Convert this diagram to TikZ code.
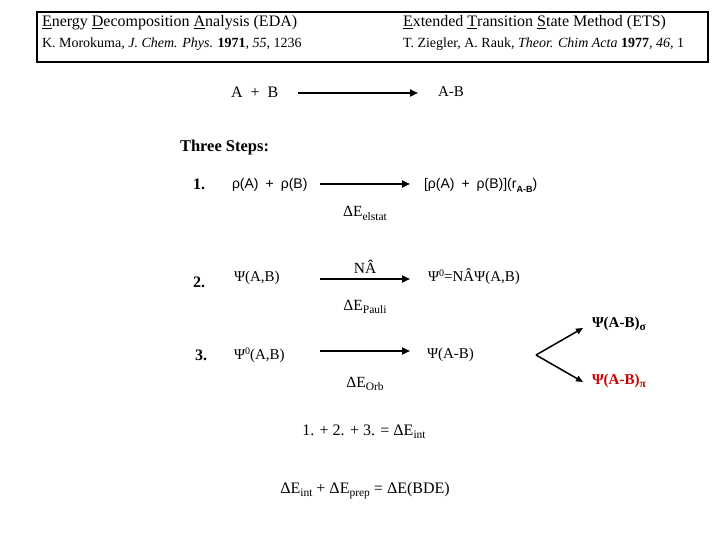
\documentclass[tikz,border=0pt]{standalone}
\usepackage{fontspec}
\setmainfont{Liberation Serif}
\setsansfont{Liberation Sans}
\usetikzlibrary{arrows.meta}
\definecolor{pired}{RGB}{204,0,0}
\newcommand{\lowsub}[1]{\raisebox{-0.45ex}{\fontsize{11.5}{13}\selectfont #1}}
\newcommand{\highsup}[1]{\raisebox{0.7ex}{\fontsize{10}{12}\selectfont #1}}

\begin{document}
\begin{tikzpicture}[x=1pt,y=-1pt,
  txt/.style={inner sep=0pt,outer sep=0pt,anchor=base west,font=\fontsize{16}{19}\selectfont},
  cite/.style={txt,font=\fontsize{14}{17}\selectfont},
  mid/.style={txt,anchor=base,font=\fontsize{15.5}{18}\selectfont},
  row/.style={txt,font=\fontsize{15}{18}\selectfont},
  rowsans/.style={txt,font=\sffamily\fontsize{14}{17}\selectfont},
  stepnum/.style={txt,font=\bfseries\fontsize{16}{19}\selectfont},
  arr/.style={line width=2pt,-{Triangle[length=8pt,width=7pt]}},
  forkarr/.style={line width=1.5pt,-{Triangle[length=7pt,width=6pt]}}]
\path[use as bounding box] (0,0) rectangle (720,540);
% reference box
\draw[line width=1.2pt] (37,12) rectangle (708,62);
\node[txt] (eda) at (42,27) {\underline{E}nergy \underline{D}ecomposition \underline{A}nalysis (EDA)};
\node[cite] (moro) at (42,48) {K. Morokuma, \textit{J. Chem. Phys.} \textbf{1971}, \textit{55}, 1236};
\node[txt] (ets) at (403,27) {\underline{E}xtended \underline{T}ransition \underline{S}tate Method (ETS)};
\node[cite] (ziegler) at (403,48) {T. Ziegler, A. Rauk, \textit{Theor. Chim Acta} \textbf{1977}, \textit{46}, 1};
% overall reaction
\node[txt] (ab) at (231,98) {A\enspace+\enspace B};
\node[row] (AB) at (438,97) {A-B};
\coordinate (abend) at (298,93);
\coordinate (ABstart) at (418,93);
\draw[arr] (abend) -- (ABstart);
\node[txt,font=\bfseries\fontsize{16.5}{19}\selectfont] (steps) at (180,152) {Three Steps:};
% step 1
\node[stepnum] (one) at (193,190) {1.};
\node[rowsans] (rhoab) at (232,189) {ρ(A)\enspace+\enspace ρ(B)};
\node[rowsans] (rhoAB) at (424,189) {[ρ(A)\enspace+\enspace ρ(B)](r\lowsub{\bfseries\sffamily\fontsize{9}{10}\selectfont A-B})};
\coordinate (s1a) at (320,184);
\coordinate (s1b) at (410,184);
\draw[arr] (s1a) -- (s1b);
\node[mid] (elstat) at (365,217) {ΔE\lowsub{elstat}};
% step 2
\node[stepnum] (two) at (193,287) {2.};
\node[row] (psiab) at (234,281) {Ψ(A,B)};
\node[mid] (na) at (365,273) {NÂ};
\node[row] (psi0) at (428,281) {Ψ\highsup{0}=NÂΨ(A,B)};
\coordinate (s2a) at (320,279);
\coordinate (s2b) at (410,279);
\draw[arr] (s2a) -- (s2b);
\node[mid] (pauli) at (365,310) {ΔE\lowsub{Pauli}};
% step 3
\node[stepnum] (three) at (195,360) {3.};
\node[row] (psi0ab) at (234,359) {Ψ\highsup{0}(A,B)};
\node[row] (psiAB) at (427,358) {Ψ(A-B)};
\coordinate (s3a) at (320,351);
\coordinate (s3b) at (410,351);
\draw[arr] (s3a) -- (s3b);
\node[mid] (orb) at (365,387) {ΔE\lowsub{Orb}};
% sigma / pi split
\coordinate (fork) at (536,355);
\coordinate (sigtip) at (583,328);
\coordinate (pitip) at (583,382);
\node[row,font=\bfseries\fontsize{15}{18}\selectfont] (sigma) at (592,327) {Ψ(A-B)\lowsub{\bfseries σ}};
\node[row,font=\bfseries\fontsize{15}{18}\selectfont,text=pired] (pi) at (592,384) {Ψ(A-B)\lowsub{\bfseries π}};
\draw[forkarr] (fork) -- (sigtip);
\draw[forkarr] (fork) -- (pitip);
% sums
\node[mid,font=\fontsize{16}{19}\selectfont] (sum) at (364,435) {1. + 2. + 3. = ΔE\lowsub{int}};
\node[mid,font=\fontsize{16}{19}\selectfont] (bde) at (365,493) {ΔE\lowsub{int} + ΔE\lowsub{prep} = ΔE(BDE)};
\end{tikzpicture}
\end{document}
